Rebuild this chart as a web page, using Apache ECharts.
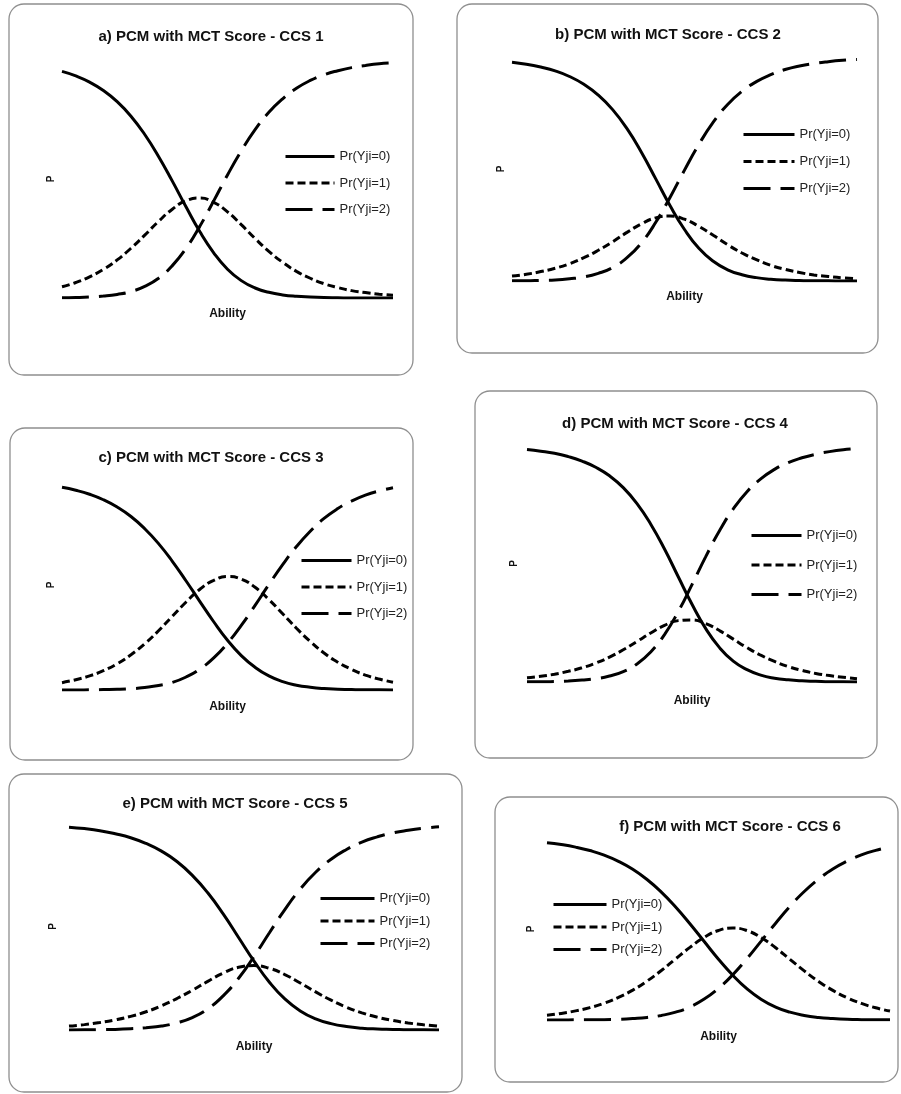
<!DOCTYPE html>
<html>
<head>
<meta charset="utf-8">
<script src="https://cdn.jsdelivr.net/npm/echarts@6/dist/echarts.min.js"></script>
<style>
body{margin:0;background:#fff;}
#pcm_chart{width:901px;height:1094px;}
</style>
</head>
<body>
<div id="pcm_chart"></div>
<script>
// ability points along the x axis (no tick labels in the original)
var ability = ['-6','-5.5','-5','-4.5','-4','-3.5','-3','-2.5','-2','-1.5','-1','-0.5','0',
	'0.5','1','1.5','2','2.5','3','3.5','4','4.5','5','5.5','6'];
var legend_names = ['Pr(Yji=0)', 'Pr(Yji=1)', 'Pr(Yji=2)'];
var titles = [
	'a) PCM with MCT Score - CCS 1',
	'b) PCM with MCT Score - CCS 2',
	'c) PCM with MCT Score - CCS 3',
	'd) PCM with MCT Score - CCS 4',
	'e) PCM with MCT Score - CCS 5',
	'f) PCM with MCT Score - CCS 6'
];

// CCS 1
var a_p0 = [0.952,0.933,0.907,0.872,0.825,0.764,0.687,0.595,0.491,0.382,0.278,0.190,0.121,0.073,0.042,0.024,0.013,0.007,0.004,0.002,0.001,0.000,0.000,0.000,0.000];
var a_p1 = [0.047,0.065,0.089,0.120,0.160,0.209,0.264,0.322,0.373,0.409,0.420,0.402,0.362,0.308,0.250,0.196,0.150,0.112,0.083,0.060,0.044,0.031,0.023,0.016,0.012];
var a_p2 = [0.001,0.002,0.004,0.008,0.015,0.027,0.049,0.083,0.136,0.209,0.302,0.408,0.517,0.618,0.707,0.780,0.837,0.881,0.914,0.938,0.955,0.968,0.977,0.984,0.988];
// CCS 2
var b_p0 = [0.977,0.968,0.955,0.938,0.913,0.878,0.830,0.765,0.680,0.575,0.456,0.336,0.230,0.146,0.088,0.050,0.028,0.015,0.008,0.004,0.002,0.001,0.001,0.000,0.000];
var b_p1 = [0.022,0.030,0.042,0.057,0.077,0.104,0.137,0.175,0.217,0.255,0.282,0.290,0.276,0.244,0.204,0.162,0.125,0.095,0.070,0.052,0.038,0.027,0.020,0.014,0.010];
var b_p2 = [0.001,0.001,0.003,0.005,0.010,0.018,0.034,0.060,0.104,0.170,0.262,0.374,0.495,0.610,0.709,0.788,0.847,0.890,0.921,0.944,0.960,0.971,0.979,0.985,0.989];
// CCS 3
var c_p0 = [0.965,0.951,0.932,0.906,0.871,0.826,0.768,0.697,0.613,0.519,0.421,0.325,0.237,0.164,0.108,0.067,0.040,0.023,0.013,0.007,0.004,0.002,0.001,0.001,0.000];
var c_p1 = [0.035,0.049,0.067,0.092,0.125,0.168,0.220,0.282,0.351,0.419,0.480,0.522,0.540,0.528,0.489,0.431,0.363,0.294,0.231,0.176,0.132,0.098,0.071,0.052,0.037];
var c_p2 = [0.000,0.000,0.001,0.002,0.003,0.006,0.012,0.021,0.036,0.062,0.100,0.153,0.223,0.308,0.403,0.502,0.597,0.683,0.756,0.817,0.864,0.900,0.928,0.948,0.963];
// CCS 4
var d_p0 = [0.981,0.974,0.965,0.951,0.932,0.906,0.870,0.820,0.753,0.666,0.561,0.444,0.328,0.225,0.145,0.088,0.052,0.029,0.016,0.009,0.005,0.003,0.001,0.001,0.000];
var d_p1 = [0.018,0.024,0.033,0.045,0.060,0.080,0.105,0.136,0.171,0.207,0.239,0.259,0.262,0.246,0.217,0.181,0.145,0.113,0.087,0.065,0.049,0.036,0.027,0.020,0.014];
var d_p2 = [0.001,0.001,0.002,0.004,0.008,0.014,0.025,0.044,0.076,0.127,0.200,0.297,0.411,0.529,0.638,0.730,0.803,0.857,0.897,0.926,0.946,0.961,0.972,0.980,0.985];
// CCS 5
var e_p0 = [0.980,0.973,0.963,0.948,0.929,0.901,0.864,0.814,0.747,0.663,0.561,0.447,0.333,0.231,0.150,0.092,0.054,0.031,0.017,0.009,0.005,0.003,0.001,0.001,0.000];
var e_p1 = [0.019,0.026,0.036,0.049,0.066,0.088,0.117,0.152,0.192,0.235,0.275,0.303,0.311,0.298,0.268,0.227,0.184,0.144,0.110,0.083,0.062,0.046,0.034,0.025,0.018];
var e_p2 = [0.000,0.001,0.002,0.003,0.006,0.011,0.019,0.035,0.060,0.102,0.165,0.250,0.355,0.470,0.582,0.681,0.762,0.825,0.872,0.908,0.933,0.952,0.965,0.975,0.982];
// CCS 6
var f_p0 = [0.974,0.964,0.950,0.931,0.906,0.872,0.828,0.772,0.703,0.621,0.529,0.431,0.334,0.246,0.171,0.113,0.071,0.043,0.025,0.014,0.008,0.004,0.002,0.001,0.001];
var f_p1 = [0.026,0.036,0.050,0.068,0.092,0.124,0.164,0.214,0.272,0.336,0.399,0.454,0.492,0.505,0.491,0.452,0.397,0.333,0.270,0.212,0.163,0.122,0.091,0.067,0.049];
var f_p2 = [0.000,0.000,0.001,0.001,0.002,0.004,0.008,0.014,0.025,0.043,0.072,0.115,0.174,0.249,0.338,0.435,0.532,0.624,0.706,0.774,0.830,0.873,0.907,0.932,0.950];

var curves = [
	[a_p0, a_p1, a_p2],
	[b_p0, b_p1, b_p2],
	[c_p0, c_p1, c_p2],
	[d_p0, d_p1, d_p2],
	[e_p0, e_p1, e_p2],
	[f_p0, f_p1, f_p2]
];

// layout of the six panels
var panels = [
	{box:[9,4,404,371],    grid:[62,60,331,238],  title:[211,29],  abilityGap:10, pGap:6,  legend:[284,150,49,13.5]},
	{box:[457,4,421,349],  grid:[512,57,345,224], title:[668,27],  abilityGap:10, pGap:6,  legend:[742,128,51,14]},
	{box:[10,428,403,332], grid:[62,480,331,210], title:[211,450], abilityGap:11, pGap:6,  legend:[300,554,50,13.5]},
	{box:[475,391,402,367],grid:[527,445,330,237],title:[675,416], abilityGap:13, pGap:8,  legend:[750,529,50,16.5]},
	{box:[9,774,453,318],  grid:[69,823,370,207], title:[235,796], abilityGap:11, pGap:11, legend:[319,892,54,9.5]},
	{box:[495,797,403,285],grid:[547,838,343,182],title:[730,819], abilityGap:11, pGap:11, legend:[552,898,53,9.5]}
];

var font = "'Liberation Sans', Arial, sans-serif";
var dash_types = ['solid', [8, 4], [27, 10]];

function chart_pcm(){
	var pcm_chart = echarts.init(document.getElementById("pcm_chart"));
	var grid = [], xAxis = [], yAxis = [], series = [], title = [], legend = [], graphic = [];
	for (var i = 0; i < panels.length; i++) {
		var p = panels[i];
		graphic.push({
			type: 'rect',
			shape: {x: p.box[0], y: p.box[1], width: p.box[2], height: p.box[3], r: 15},
			style: {fill: 'none', stroke: '#8f8f8f', lineWidth: 1.3},
			z: -10
		});
		title.push({
			text: titles[i],
			left: p.title[0],
			top: p.title[1],
			textAlign: 'center',
			padding: 0,
			textStyle: {fontFamily: font, fontSize: 15, fontWeight: 'bold', color: '#111'}
		});
		grid.push({left: p.grid[0], top: p.grid[1], width: p.grid[2], height: p.grid[3], containLabel: false});
		xAxis.push({
			gridIndex: i,
			type: 'category',
			boundaryGap: false,
			data: ability,
			name: 'Ability',
			nameLocation: 'middle',
			nameGap: p.abilityGap,
			nameTextStyle: {fontFamily: font, fontSize: 12, fontWeight: 'bold', color: '#111'},
			axisLine: {show: false},
			axisTick: {show: false},
			axisLabel: {show: false},
			splitLine: {show: false}
		});
		yAxis.push({
			gridIndex: i,
			type: 'value',
			min: 0,
			max: 1,
			name: 'P',
			nameLocation: 'middle',
			nameGap: p.pGap,
			nameTextStyle: {fontFamily: font, fontSize: 10, fontWeight: 'bold', color: '#111'},
			axisLine: {show: false},
			axisTick: {show: false},
			axisLabel: {show: false},
			splitLine: {show: false}
		});
		for (var k = 0; k < 3; k++) {
			series.push({
				name: legend_names[k],
				type: 'line',
				xAxisIndex: i,
				yAxisIndex: i,
				smooth: true,
				symbol: 'none',
				silent: true,
				itemStyle: {color: '#000'},
				lineStyle: {color: '#000', width: 3, type: dash_types[k], cap: 'butt'},
				data: curves[i][k]
			});
		}
		legend.push({
			data: legend_names,
			orient: 'vertical',
			left: p.legend[0],
			top: p.legend[1],
			itemWidth: p.legend[2],
			itemHeight: 14,
			itemGap: p.legend[3],
			padding: 0,
			selectedMode: false,
			itemStyle: {color: 'rgba(0,0,0,0)', borderColor: 'rgba(0,0,0,0)', borderWidth: 0},
			lineStyle: {width: 3},
			textStyle: {fontFamily: font, fontSize: 13, color: '#222'}
		});
	}
	var option = {
		animation: false,
		title: title,
		legend: legend,
		grid: grid,
		xAxis: xAxis,
		yAxis: yAxis,
		graphic: graphic,
		series: series
	};
	pcm_chart.setOption(option);
}

chart_pcm();
</script>
</body>
</html>
